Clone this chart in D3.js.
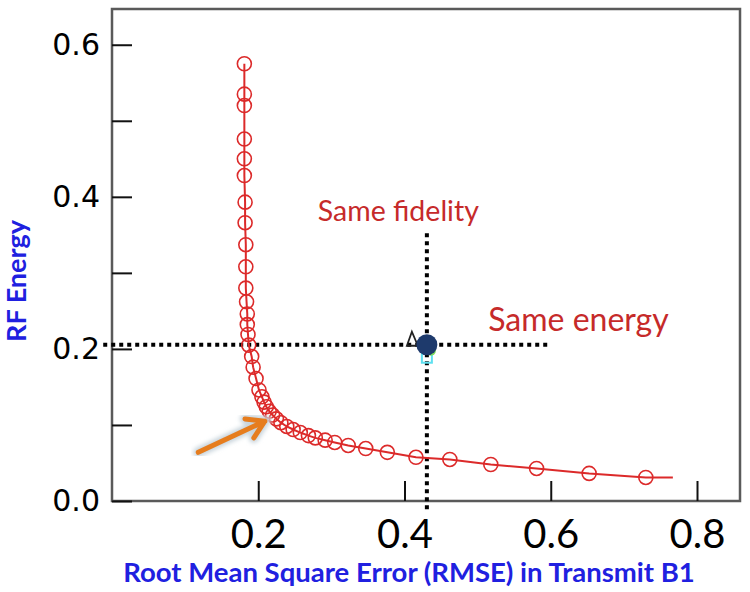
<!DOCTYPE html>
<html><head><meta charset="utf-8">
<script src="https://cdn.jsdelivr.net/npm/d3@7/dist/d3.min.js"></script>
<style>body{margin:0;background:#fff}</style>
</head><body>
<svg id="c" width="750" height="592"></svg>
<script>
// RMSE (x) and RF energy (y) of the L-curve points
const rmse = [0.181,0.181,0.181,0.181,0.181,0.181,0.182,0.182,0.183,0.183,0.183,0.184,0.185,0.185,0.186,0.187,
  0.191,0.193,0.197,0.201,0.205,0.208,0.211,0.215,0.2196,0.2248,0.231,0.239,0.2477,0.2575,0.2686,0.278,0.2915,
  0.3046,0.323,0.347,0.3765,0.4157,0.462,0.518,0.5806,0.6525,0.730];
const energy = [0.575,0.535,0.520,0.476,0.450,0.428,0.393,0.366,0.337,0.308,0.280,0.262,0.246,0.232,0.219,0.205,
  0.190,0.176,0.161,0.146,0.137,0.130,0.124,0.118,0.113,0.108,0.103,0.098,0.094,0.090,0.086,0.083,0.080,
  0.077,0.073,0.069,0.064,0.0575,0.0546,0.048,0.0428,0.0363,0.031];
const tailRmse = [0.730, 0.767];
const tailEnergy = [0.031, 0.031];
const xTicks = [0.2, 0.4, 0.6, 0.8];
const yTicks = [0.0, 0.1, 0.2, 0.3, 0.4, 0.5, 0.6];
const yLabels = [0.0, 0.2, 0.4, 0.6];
const refPoint = [0.4306, 0.2055];          // same fidelity / same energy point
const hLine = [[-0.012, 0.2055], [0.6, 0.2055]];
const vLine = [[0.4306, 0.352], [0.4306, -0.015]];
const arrowPts = [[0.118, 0.064], [0.209, 0.105]];
const texts = [
  {t: "Same fidelity", x: 0.2815, y: 0.381, size: 28.5},
  {t: "Same energy", x: 0.5145, y: 0.238, size: 32}
];
const xTitle = "Root Mean Square Error (RMSE) in Transmit B1";
const yTitle = "RF Energy";

const svg = d3.select("#c");
const x = d3.scaleLinear().domain([0, 0.8588]).range([112, 740]);
const y = d3.scaleLinear().domain([0, 0.647]).range([501, 9]);
const RED = "#dc2a2a";

// frame
svg.append("rect").attr("x", x(0)).attr("y", y(0.647)).attr("width", x(0.8588) - x(0)).attr("height", y(0) - y(0.647))
  .attr("fill", "none").attr("stroke", "#5a5a5a").attr("stroke-width", 2.5);

// axes ticks
const gx = svg.append("g").attr("transform", `translate(0,${y(0)})`)
  .call(d3.axisBottom(x).tickValues(xTicks).tickSizeInner(-20).tickSizeOuter(0).tickPadding(16).tickFormat(d3.format(".1f")));
gx.select(".domain").remove();
gx.selectAll(".tick line").attr("stroke", "#111").attr("stroke-width", 2);
gx.selectAll(".tick text").attr("font-family", "Lato, 'Open Sans', sans-serif").attr("font-size", 40).attr("fill", "#000")
  .attr("dy", "0.78em");

const gy = svg.append("g").attr("transform", `translate(${x(0)},0)`)
  .call(d3.axisLeft(y).tickValues(yTicks).tickSizeInner(-20).tickSizeOuter(0).tickPadding(12)
    .tickFormat(d => yLabels.some(v => Math.abs(v - d) < 1e-9) ? d3.format(".1f")(d) : ""));
gy.select(".domain").remove();
gy.selectAll(".tick line").attr("stroke", "#111").attr("stroke-width", 2);
gy.selectAll(".tick text").attr("font-family", "'DejaVu Sans', sans-serif").attr("font-size", 30).attr("fill", "#000");

// dotted reference lines
const line = d3.line().x(d => x(d[0])).y(d => y(d[1]));
[hLine, vLine].forEach(l => svg.append("path").attr("d", line(l)).attr("stroke", "#000").attr("stroke-width", 4)
  .attr("stroke-dasharray", "4 4").attr("fill", "none"));

// curve
const pts = rmse.map((v, i) => [v, energy[i]]);
svg.append("path").attr("d", line(pts.concat(tailRmse.map((v, i) => [v, tailEnergy[i]]))))
  .attr("fill", "none").attr("stroke", RED).attr("stroke-width", 2);
svg.append("g").selectAll("circle").data(pts).join("circle")
  .attr("cx", d => x(d[0])).attr("cy", d => y(d[1])).attr("r", 7)
  .attr("fill", "none").attr("stroke", RED).attr("stroke-width", 1.6);

// reference point decorations
const px = x(refPoint[0]), py = y(refPoint[1]);
svg.append("path").attr("d", `M${px - 15},${py - 13} L${px - 20},${py + 1} L${px - 9},${py + 1} Z`)
  .attr("fill", "none").attr("stroke", "#222").attr("stroke-width", 1.8);
svg.append("rect").attr("x", px - 5).attr("y", py + 8).attr("width", 10).attr("height", 10)
  .attr("fill", "none").attr("stroke", "#5ee0f0").attr("stroke-width", 2);
svg.append("circle").attr("cx", px + 4).attr("cy", py + 6).attr("r", 5).attr("fill", "#7fdc5a");
svg.append("circle").attr("cx", px).attr("cy", py).attr("r", 10.5).attr("fill", "#1e3a6c");

// annotations
svg.selectAll(".ann").data(texts).join("text").attr("class", "ann")
  .attr("x", d => x(d.x)).attr("y", d => y(d.y)).attr("dy", "0.35em")
  .attr("font-family", "Lato, 'Open Sans', sans-serif").attr("font-size", d => d.size).attr("fill", "#c62a2a").text(d => d.t);

// orange arrow with soft glow
const defs = svg.append("defs");
defs.append("filter").attr("id", "glow").append("feGaussianBlur").attr("stdDeviation", 2);
const a0 = [x(arrowPts[0][0]), y(arrowPts[0][1])], a1 = [x(arrowPts[1][0]), y(arrowPts[1][1])];
const ang = Math.atan2(a1[1] - a0[1], a1[0] - a0[0]);
const head = (s) => [[a1[0] - 20 * Math.cos(ang + s), a1[1] - 20 * Math.sin(ang + s)], a1];
const arrowPath = `M${a0}L${a1}M${head(0.55)[0]}L${a1}L${head(-0.55)[0]}`;
svg.append("path").attr("d", arrowPath).attr("stroke", "#c8d4dc").attr("stroke-width", 10).attr("fill", "none")
  .attr("stroke-linecap", "round").attr("filter", "url(#glow)");
svg.append("path").attr("d", arrowPath).attr("stroke", "#e67d1e").attr("stroke-width", 5).attr("fill", "none")
  .attr("stroke-linecap", "round").attr("stroke-linejoin", "round");

// axis titles
svg.append("text").attr("x", 409).attr("y", 572).attr("dy", "0.35em").attr("text-anchor", "middle")
  .attr("font-family", "Lato, 'Open Sans', sans-serif").attr("font-weight", "bold").attr("font-size", 27.5)
  .attr("fill", "#2020e0").text(xTitle);
svg.append("text").attr("transform", "translate(17,281) rotate(-90)").attr("dy", "0.35em").attr("text-anchor", "middle")
  .attr("font-family", "Lato, 'Open Sans', sans-serif").attr("font-weight", "bold").attr("font-size", 27)
  .attr("fill", "#2020e0").text(yTitle);
</script>
</body></html>
